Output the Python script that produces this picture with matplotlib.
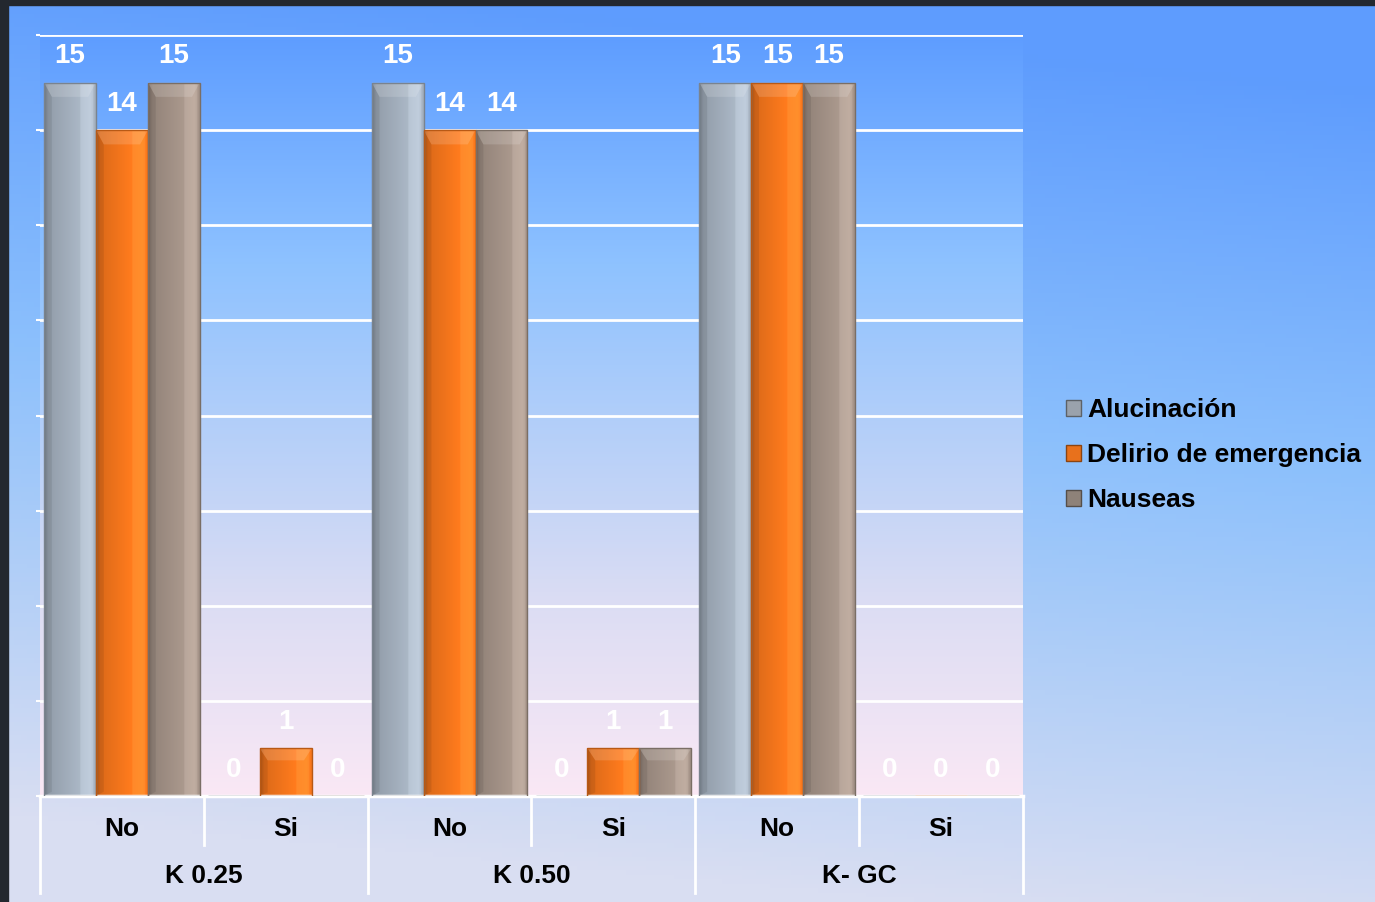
import numpy as np
import matplotlib
matplotlib.use("Agg")
import matplotlib.pyplot as plt
from matplotlib.colors import to_rgb
from matplotlib.patches import Patch
from matplotlib.lines import Line2D

plt.rcParams['font.family'] = ['Liberation Sans', 'DejaVu Sans']

# data
groups = ["K 0.25", "K 0.50", "K- GC"]
answers = ["No", "Si"]
series = ["Alucinación", "Delirio de emergencia", "Nauseas"]
alucinacion = [15, 0, 15, 0, 15, 0]
delirio = [14, 1, 14, 1, 15, 0]
nauseas = [15, 0, 14, 1, 15, 0]
colors = ["#A3AFBD", "#F5761C", "#A39287"]

W, H = 1375, 902
fig = plt.figure(figsize=(W / 100, H / 100), dpi=100)

# slide background
bg = fig.add_axes([0, 0, 1, 1], zorder=-10)
yy, xx = np.mgrid[0:1:200j, 0:1:200j]
top = np.array(to_rgb("#5E9CFE"))
mid = np.array(to_rgb("#8CC0FC"))
bot = np.array(to_rgb("#D9DEF2"))
t = np.clip(yy * 1.05 - 0.15 * xx + 0.05, 0, 1)
img = np.where(t[..., None] < 0.45,
               top + (mid - top) * (t[..., None] / 0.45),
               mid + (bot - mid) * ((t[..., None] - 0.45) / 0.55))
bg.imshow(img, extent=[0, 1, 0, 1], aspect="auto", origin="upper")
bg.add_patch(plt.Rectangle((0, 0), 8 / W, 1, color="#23282F"))
bg.add_patch(plt.Rectangle((0, 1 - 5 / H), 1, 5 / H, color="#23282F"))
bg.set_xlim(0, 1)
bg.set_ylim(0, 1)
bg.axis("off")

ax = fig.add_axes([40 / W, 1 - 796 / H, (1023 - 40) / W, (796 - 35) / H])
ax.set_xlim(-0.5, 5.5)
ax.set_ylim(0, 16)
ax.patch.set_alpha(0)

# plot area gradient
g = np.linspace(0, 1, 256)[:, None]
c_top = np.array(to_rgb("#5E9DFF"))
c_mid = np.array(to_rgb("#8EC2FF"))
c_low = np.array(to_rgb("#DCDDF3"))
c_bot = np.array(to_rgb("#FAE8F5"))
stops = [0, 0.3, 0.75, 1.0]
cols = [c_top, c_mid, c_low, c_bot]
grad = np.stack([np.interp(g[:, 0], stops, [c[i] for c in cols]) for i in range(3)], axis=-1)[:, None, :]
ax.imshow(grad, extent=[-0.5, 5.5, 0, 16], aspect="auto", origin="upper", zorder=0)

for yv in range(2, 17, 2):
    ax.axhline(yv, color="white", lw=2, zorder=1)

x = np.arange(len(alucinacion))
w = 0.317
values = [alucinacion, delirio, nauseas]


def bevel(ax, rect, color):
    x0, wd, ht = rect.get_x(), rect.get_width(), rect.get_height()
    if ht <= 0:
        return
    base = np.array(to_rgb(color))
    n = 60
    u = np.linspace(0, 1, n)
    shade = np.interp(u, [0, 0.08, 0.5, 0.9, 1.0], [0.75, 0.9, 1.0, 1.1, 1.0])
    row = np.clip(base[None, :] * shade[:, None] + (shade[:, None] > 1.05) * 0.05, 0, 1)
    img = np.repeat(row[None, :, :], 4, axis=0)
    im = ax.imshow(img, extent=[x0, x0 + wd, 0, ht], aspect="auto", zorder=2)
    im.set_clip_path(rect)
    # top bevel
    bh = min(0.3, ht * 0.25)
    ax.fill([x0, x0 + wd, x0 + wd * 0.85, x0 + wd * 0.15],
            [ht, ht, ht - bh, ht - bh], color="white", alpha=0.15, lw=0, zorder=3)
    ax.fill([x0, x0 + wd * 0.15, x0 + wd * 0.15, x0],
            [ht, ht - bh, bh * 0.3, 0], color="black", alpha=0.08, lw=0, zorder=3)


for i, (vals, col) in enumerate(zip(values, colors)):
    bars = ax.bar(x + (i - 1) * w, vals, w, color=col,
                  edgecolor=tuple(np.array(to_rgb(col)) * 0.75), lw=1, zorder=2)
    for r, v in zip(bars, vals):
        bevel(ax, r, col)
        r.set_zorder(4)
        r.set_facecolor("none")
        ax.annotate(str(v), (r.get_x() + r.get_width() / 2, v),
                    xytext=(0, 19), textcoords="offset points", ha="center", va="center",
                    fontsize=20, fontweight="bold", color="white", zorder=5)

for s in ["top", "right", "left"]:
    ax.spines[s].set_visible(False)
ax.spines["bottom"].set_color("white")
ax.spines["bottom"].set_linewidth(2.5)
ax.set_yticks(range(0, 17, 2))
ax.tick_params(axis="y", length=3, color="white", width=1.5, labelleft=False)
ax.set_xticks(x)
ax.set_xticklabels(answers * len(groups), fontsize=19, fontweight="bold")
ax.tick_params(axis="x", length=0, pad=15)

tr = ax.get_xaxis_transform()
for k, gname in enumerate(groups):
    ax.text(2 * k + 0.5, -0.105, gname, transform=tr, ha="center", va="center",
            fontsize=19, fontweight="bold")
for b in np.arange(-0.5, 6, 1):
    depth = -0.128 if int(b + 0.5) % 2 == 0 else -0.065
    ax.add_line(Line2D([b, b], [0, depth], transform=tr, color="white", lw=2, clip_on=False))

handles = [Patch(facecolor=c, edgecolor=tuple(np.array(to_rgb(c)) * 0.6)) for c in ["#9AA2AC", "#E8711C", "#8E8279"]]
fig.legend(handles, series, loc="center left", bbox_to_anchor=(1053 / W, 1 - 455 / H),
           frameon=False, prop={"size": 19, "weight": "bold"}, handlelength=0.55,
           handleheight=0.55, handletextpad=0.25, labelspacing=0.8, borderpad=0)

fig.savefig("out.png", dpi=100)
